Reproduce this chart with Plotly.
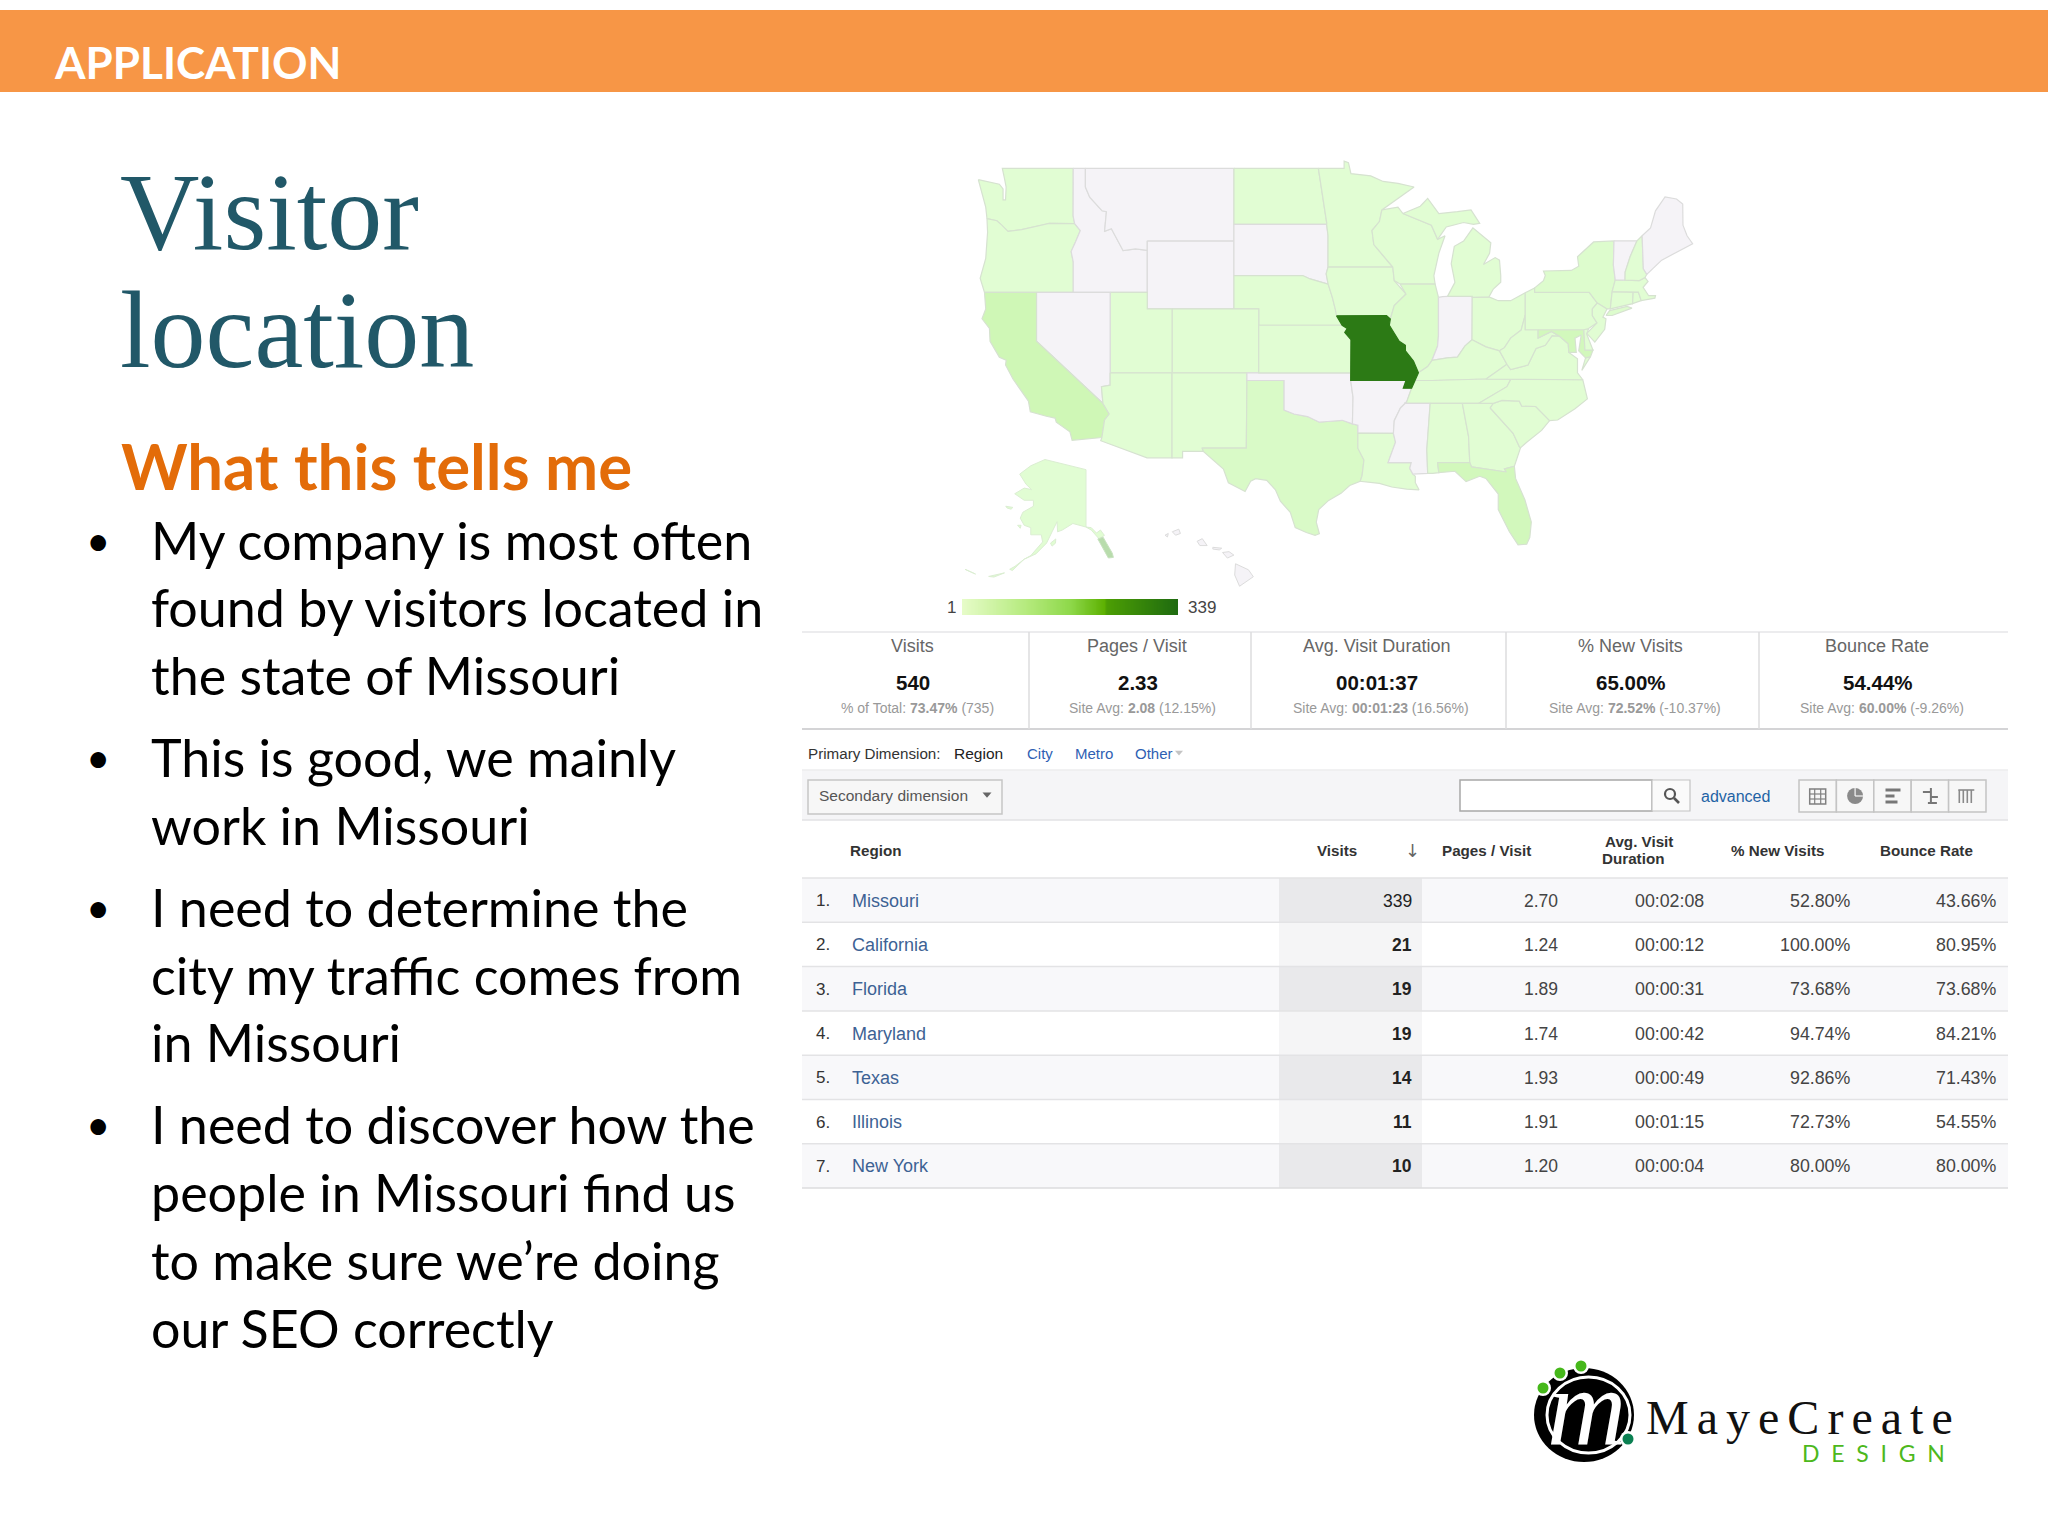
import math
import numpy as np
import plotly.graph_objects as go

# ---------------- data ----------------
HEADER = "APPLICATION"
TITLE_LINES = ["Visitor", "location"]
SUBHEAD = "What this tells me"
BULLETS = [
    ["My company is most often", "found by visitors located in", "the state of Missouri"],
    ["This is good, we mainly", "work in Missouri"],
    ["I need to determine the", "city my traffic comes from", "in Missouri"],
    ["I need to discover how the", "people in Missouri find us", "to make sure we\u2019re doing", "our SEO correctly"],
]
KPI_LABELS = ["Visits", "Pages / Visit", "Avg. Visit Duration", "% New Visits", "Bounce Rate"]
KPI_VALUES = ["540", "2.33", "00:01:37", "65.00%", "54.44%"]
KPI_SUB_A = ["% of Total: ", "Site Avg: ", "Site Avg: ", "Site Avg: ", "Site Avg: "]
KPI_SUB_B = ["73.47%", "2.08", "00:01:23", "72.52%", "60.00%"]
KPI_SUB_C = [" (735)", " (12.15%)", " (16.56%)", " (-10.37%)", " (-9.26%)"]
REGIONS = ["Missouri", "California", "Florida", "Maryland", "Texas", "Illinois", "New York"]
VISITS = [339, 21, 19, 19, 14, 11, 10]
PAGES = ["2.70", "1.24", "1.89", "1.74", "1.93", "1.91", "1.20"]
DURATION = ["00:02:08", "00:00:12", "00:00:31", "00:00:42", "00:00:49", "00:01:15", "00:00:04"]
NEW_VISITS = ["52.80%", "100.00%", "73.68%", "94.74%", "92.86%", "72.73%", "80.00%"]
BOUNCE = ["43.66%", "80.95%", "73.68%", "84.21%", "71.43%", "54.55%", "80.00%"]

# visits per state: table values, otherwise read from the shades (0 = no data)
STATE_VISITS = {"MO": 339, "CA": 21, "FL": 19, "MD": 19, "TX": 14, "IL": 11, "NY": 10,
                "MT": 0, "ID": 0, "WY": 0, "SD": 0, "NV": 0, "OK": 0, "AR": 0, "MS": 0,
                "IN": 0, "VT": 0, "ME": 0, "HI": 0}
DEFAULT_VISITS = 3

# state outlines (lon, lat)
WA = [(-124.7,48.4),(-123.0,48.15),(-122.7,47.9),(-122.7,47.3),(-122.5,47.3),(-122.45,48.0),(-122.6,48.5),(-122.76,49),(-117.03,49),(-117.04,46.42),(-116.92,45.99),(-118.98,46.0),(-119.3,45.93),(-121.2,45.65),(-122.3,45.55),(-122.8,45.9),(-123.2,46.15),(-124.0,46.27),(-124.1,46.9)]
OR = [(-124.0,46.27),(-123.2,46.15),(-122.8,45.9),(-122.3,45.55),(-121.2,45.65),(-119.3,45.93),(-118.98,46),(-116.92,45.99),(-116.46,45.6),(-116.85,44.95),(-117.2,44.4),(-117.03,43.8),(-117.03,42),(-124.2,42),(-124.55,42.84),(-124.1,44),(-123.95,45.5)]
ID = [(-117.03,49),(-116.05,49),(-116.05,48),(-115.7,47.45),(-114.7,46.7),(-114.35,46.65),(-114.5,45.55),(-113.95,45.7),(-113.45,45.05),(-113.0,44.45),(-112.0,44.55),(-111.05,44.47),(-111.05,42),(-117.03,42),(-117.03,43.8),(-117.2,44.4),(-116.85,44.95),(-116.46,45.6),(-116.92,45.99),(-117.04,46.42)]
MT = [(-116.05,49),(-104.05,49),(-104.05,45),(-111.05,45),(-111.05,44.47),(-112,44.55),(-113,44.45),(-113.45,45.05),(-113.95,45.7),(-114.5,45.55),(-114.35,46.65),(-114.7,46.7),(-115.7,47.45),(-116.05,48)]
WY = [(-111.05,45),(-104.05,45),(-104.05,41),(-111.05,41)]
ND = [(-104.05,49),(-97.23,49),(-96.55,46),(-96.56,45.94),(-104.05,45.94)]
SD = [(-104.05,45.94),(-96.56,45.94),(-96.45,45.3),(-96.45,43.5),(-96.6,43.1),(-96.44,42.49),(-97.9,42.8),(-98.5,43.0),(-104.05,43)]
NE = [(-104.05,43),(-98.5,43),(-97.9,42.8),(-96.44,42.49),(-96.1,41.7),(-95.87,41),(-95.31,40),(-102.05,40),(-102.05,41),(-104.05,41)]
CO = [(-109.05,41),(-102.05,41),(-102.05,37),(-109.05,37)]
UT = [(-114.05,42),(-111.05,42),(-111.05,41),(-109.05,41),(-109.05,37),(-114.05,37)]
NV = [(-120,42),(-114.05,42),(-114.05,36.2),(-114.75,36.1),(-114.63,35),(-120,39)]
CA = [(-124.2,42),(-120,42),(-120,39),(-114.63,35),(-114.13,34.3),(-114.5,33.9),(-114.72,32.72),(-117.12,32.53),(-117.3,33.1),(-118.4,33.75),(-118.5,34.03),(-119.2,34.15),(-120.5,34.45),(-120.65,35.15),(-121.9,36.6),(-122.5,37.5),(-122.45,37.8),(-123,38),(-123.75,39),(-123.8,39.8),(-124.4,40.4),(-124.1,41)]
AZ = [(-114.05,37),(-109.05,37),(-109.05,31.33),(-111.07,31.33),(-114.81,32.5),(-114.72,32.72),(-114.5,33.9),(-114.13,34.3),(-114.63,35),(-114.75,36.1),(-114.05,36.2)]
NM = [(-109.05,37),(-103,37),(-103.05,32),(-106.62,32),(-106.53,31.78),(-108.2,31.78),(-108.2,31.33),(-109.05,31.33)]
TX = [(-106.62,32),(-103.05,32),(-103,36.5),(-100,36.5),(-100,34.56),(-99.2,34.3),(-98.1,34.13),(-97.15,33.75),(-96.5,33.8),(-95.3,33.88),(-94.48,33.64),(-94.04,33.55),(-94.04,33.02),(-94.04,31.99),(-93.55,31.18),(-93.7,30.1),(-93.85,29.7),(-94.7,29.4),(-95.4,28.85),(-96.4,28.35),(-97.2,27.7),(-97.4,26.8),(-97.15,25.96),(-97.5,25.85),(-98.2,26.05),(-99.1,26.4),(-99.5,27.5),(-100.3,28.3),(-100.7,29.1),(-101.4,29.77),(-102.3,29.88),(-102.7,29.7),(-103.15,28.98),(-104.5,29.6),(-104.9,30.55),(-106.5,31.75)]
OK = [(-103,37),(-94.62,37),(-94.62,36.5),(-94.43,35.4),(-94.48,33.64),(-95.3,33.88),(-96.5,33.8),(-97.15,33.75),(-98.1,34.13),(-99.2,34.3),(-100,34.56),(-100,36.5),(-103,36.5)]
KS = [(-102.05,40),(-95.31,40),(-94.9,39.8),(-95.1,39.55),(-94.6,39.1),(-94.62,37),(-102.05,37)]
MN = [(-97.23,49),(-95.15,49),(-95.15,49.38),(-94.8,49.3),(-94.6,48.72),(-93,48.6),(-92,48.3),(-90.8,48.2),(-89.5,48.0),(-92.1,46.75),(-92.3,46.1),(-92.9,45.6),(-92.75,44.8),(-91.22,43.5),(-96.45,43.5),(-96.45,45.3),(-96.56,45.94),(-96.55,46)]
IA = [(-96.45,43.5),(-91.22,43.5),(-91.1,42.7),(-90.15,41.9),(-91.1,41.2),(-91.42,40.38),(-91.73,40.6),(-95.77,40.58),(-95.87,41),(-96.1,41.7),(-96.44,42.49),(-96.6,43.1)]
MO = [(-95.77,40.58),(-91.73,40.6),(-91.42,40.38),(-91.5,40.0),(-90.7,39.0),(-90.2,38.75),(-90.2,38.4),(-89.55,37.75),(-89.15,37.0),(-89.4,36.5),(-89.7,36.0),(-90.37,36.0),(-90.15,36.5),(-94.62,36.5),(-94.62,37),(-94.6,39.1),(-95.1,39.55),(-94.9,39.8),(-95.31,40)]
AR = [(-94.62,36.5),(-90.15,36.5),(-90.37,36.0),(-89.7,36.0),(-90.1,35.1),(-90.6,34.7),(-91.1,33.85),(-91.17,33.0),(-94.04,33.02),(-94.04,33.55),(-94.48,33.64),(-94.43,35.4)]
LA = [(-94.04,33.02),(-91.17,33.0),(-91.0,32.4),(-91.6,31.0),(-89.73,31.0),(-89.85,30.6),(-89.6,30.2),(-89.4,30.05),(-89.4,29.6),(-89.1,29.1),(-90.1,29.15),(-91.3,29.3),(-92.3,29.55),(-93.85,29.7),(-93.7,30.1),(-93.55,31.18),(-94.04,31.99)]
WI = [(-92.1,46.75),(-90.8,46.9),(-90.4,46.55),(-88.1,45.9),(-87.6,45.1),(-87.0,45.3),(-87.5,44.3),(-87.9,43),(-87.8,42.49),(-90.64,42.5),(-91.1,42.7),(-91.22,43.5),(-92.75,44.8),(-92.9,45.6),(-92.3,46.1)]
IL = [(-90.64,42.5),(-87.8,42.49),(-87.53,41.7),(-87.53,39.35),(-87.6,38.7),(-88.05,37.8),(-88.4,37.4),(-89.15,37.0),(-89.55,37.75),(-90.2,38.4),(-90.2,38.75),(-90.7,39),(-91.5,40),(-91.42,40.38),(-91.1,41.2),(-90.15,41.9)]
IN = [(-87.53,41.7),(-87.2,41.75),(-86.8,41.76),(-84.8,41.76),(-84.82,39.1),(-85.4,38.7),(-86,38),(-86.8,37.95),(-88.05,37.8),(-87.6,38.7),(-87.53,39.35)]
OH = [(-84.8,41.7),(-83.45,41.73),(-82.7,41.5),(-81.7,41.5),(-80.52,41.98),(-80.52,40.64),(-80.85,39.7),(-81.7,39.2),(-82.2,38.6),(-82.6,38.4),(-83.7,38.65),(-84.82,39.1)]
MI_LOWER = [(-86.8,41.76),(-84.8,41.76),(-84.8,41.7),(-83.45,41.73),(-83.1,42.2),(-82.5,42.6),(-82.5,43),(-82.6,43.9),(-82.95,44.05),(-83.9,43.65),(-83.4,44.3),(-83.3,44.9),(-84.75,45.75),(-85.5,45),(-86.25,44.7),(-86.5,43.7),(-86.2,42.6)]
MI_UPPER = [(-90.4,46.55),(-88.1,45.9),(-87.6,45.1),(-86.9,45.8),(-85.5,46.05),(-84.7,45.95),(-84.2,46.0),(-84.9,46.75),(-86,46.65),(-87.5,46.55),(-88.4,47.38),(-89,46.95)]
KY = [(-89.4,36.5),(-89.15,37),(-88.4,37.4),(-88.05,37.8),(-86.8,37.95),(-86,38),(-85.4,38.7),(-84.82,39.1),(-83.7,38.65),(-82.6,38.4),(-82,37.55),(-83.68,36.6),(-88.05,36.5)]
TN = [(-89.7,36),(-89.4,36.5),(-88.05,36.5),(-83.68,36.6),(-81.68,36.59),(-82,36.1),(-84.3,35),(-90.3,35),(-90.1,35.1)]
MS = [(-91.17,33),(-91.1,33.85),(-90.6,34.7),(-90.1,35.1),(-90.3,35),(-88.2,35),(-88.47,31.9),(-88.4,30.25),(-89.6,30.2),(-89.85,30.6),(-89.73,31),(-91.6,31),(-91,32.4)]
AL = [(-88.2,35),(-85.6,35),(-85.1,32.8),(-85.0,31.0),(-87.6,31),(-87.5,30.3),(-88.0,30.25),(-88.4,30.25),(-88.47,31.9)]
GA = [(-85.6,35),(-83.1,35),(-83.35,34.7),(-81.5,33),(-81,32.1),(-80.9,32.03),(-81.4,30.75),(-82.2,30.57),(-82.05,30.35),(-84.86,30.7),(-85,31),(-85.1,32.8)]
FL = [(-87.6,31),(-85,31),(-84.86,30.7),(-82.05,30.35),(-82.2,30.57),(-81.4,30.75),(-81.3,29.9),(-80.55,28.4),(-80.03,26.8),(-80.15,25.7),(-80.4,25.2),(-81.1,25.15),(-81.8,26.1),(-82.7,27.7),(-82.7,28.8),(-83.7,29.9),(-84.2,30.05),(-85.3,29.68),(-86.2,30.4),(-87.5,30.3)]
SC = [(-83.35,34.7),(-83.1,35),(-82.4,35.2),(-81,35.15),(-80.8,34.82),(-79.67,34.8),(-78.55,33.86),(-79.2,33.2),(-80.4,32.4),(-80.9,32.03),(-81,32.1),(-81.5,33)]
NC = [(-84.3,35),(-82,36.1),(-81.68,36.59),(-75.87,36.55),(-75.5,35.3),(-76.5,34.65),(-77.9,33.9),(-78.55,33.86),(-79.67,34.8),(-80.8,34.82),(-81,35.15),(-82.4,35.2),(-83.1,35)]
VA = [(-83.68,36.6),(-75.87,36.55),(-76.3,37),(-76.3,37.9),(-77.0,38.3),(-77.05,38.85),(-77.75,39.32),(-78.35,39.35),(-78.9,38.75),(-79.65,38.55),(-80.3,37.5),(-81.7,37.2),(-82,37.55)]
VA_SHORE = [(-75.95,37.15),(-75.25,38.03),(-75.65,37.95)]
WV = [(-82.6,38.4),(-82.2,38.6),(-81.7,39.2),(-80.85,39.7),(-80.52,40.64),(-80.52,39.72),(-79.48,39.72),(-79.48,39.2),(-78.4,39.62),(-77.75,39.32),(-78.35,39.35),(-78.9,38.75),(-79.65,38.55),(-80.3,37.5),(-81.7,37.2),(-82,37.55)]
MD = [(-79.48,39.72),(-75.79,39.72),(-75.7,38.46),(-75.05,38.45),(-75.25,38.03),(-75.65,37.95),(-76.2,38.4),(-76.0,39.4),(-76.5,39.2),(-76.4,38.3),(-77.0,38.3),(-77.05,38.85),(-77.75,39.32),(-78.4,39.62),(-79.48,39.2)]
DE = [(-75.79,39.72),(-75.4,39.8),(-75.55,39.45),(-75.05,38.45),(-75.7,38.46)]
PA = [(-80.52,41.98),(-79.76,42.27),(-79.76,42),(-75.35,42),(-74.7,41.36),(-75.1,41),(-75.1,40.6),(-74.72,40.15),(-75.4,39.8),(-75.79,39.72),(-80.52,39.72)]
NY = [(-79.76,42.27),(-79.05,42.7),(-78.9,43.0),(-79.05,43.27),(-76.8,43.3),(-76.2,43.55),(-76.3,44.1),(-75,44.95),(-73.35,45.01),(-73.4,43.6),(-73.25,42.75),(-73.5,42.05),(-73.65,41),(-73.92,41),(-74.7,41.36),(-75.35,42),(-79.76,42)]
NY_LONG_ISLAND = [(-74.0,40.6),(-73.7,40.9),(-72.3,41.15),(-71.9,41.05),(-73.5,40.6)]
NJ = [(-74.7,41.36),(-73.92,41),(-74.25,40.5),(-74,40.4),(-74.1,39.75),(-74.9,38.95),(-75.55,39.5),(-74.72,40.15),(-75.1,40.6),(-75.1,41)]
CT = [(-73.5,42.05),(-71.8,42.02),(-71.85,41.32),(-73.65,41)]
RI = [(-71.8,42.02),(-71.38,42.02),(-71.15,41.5),(-71.85,41.32)]
MA = [(-73.5,42.05),(-73.25,42.75),(-71.3,42.7),(-70.85,42.88),(-70.6,42.65),(-71,42.3),(-70.55,41.8),(-70.0,41.8),(-70.05,41.65),(-70.65,41.55),(-71.15,41.5),(-71.38,42.02)]
VT = [(-73.35,45.01),(-71.5,45.01),(-72.05,44.1),(-72.45,43.2),(-72.46,42.73),(-73.25,42.75),(-73.4,43.6)]
NH = [(-71.5,45.01),(-71.08,45.3),(-70.98,43.4),(-70.7,43.07),(-70.85,42.88),(-71.3,42.7),(-72.46,42.73),(-72.45,43.2),(-72.05,44.1)]
ME = [(-71.08,45.3),(-70.4,45.75),(-70.0,46.7),(-69.23,47.46),(-68.3,47.35),(-67.8,47.07),(-67.78,45.9),(-67.45,45.3),(-67,44.85),(-68.5,44.3),(-69.5,43.9),(-70.7,43.07),(-70.98,43.4)]

CONUS = {"WA":[WA],"OR":[OR],"ID":[ID],"MT":[MT],"WY":[WY],"ND":[ND],"SD":[SD],"NE":[NE],"CO":[CO],"UT":[UT],
         "NV":[NV],"CA":[CA],"AZ":[AZ],"NM":[NM],"TX":[TX],"OK":[OK],"KS":[KS],"MN":[MN],"IA":[IA],"AR":[AR],
         "LA":[LA],"WI":[WI],"IL":[IL],"IN":[IN],"OH":[OH],"MI":[MI_LOWER,MI_UPPER],"KY":[KY],"TN":[TN],"MS":[MS],
         "AL":[AL],"GA":[GA],"FL":[FL],"SC":[SC],"NC":[NC],"VA":[VA,VA_SHORE],"WV":[WV],"MD":[MD],"DE":[DE],
         "PA":[PA],"NY":[NY,NY_LONG_ISLAND],"NJ":[NJ],"CT":[CT],"RI":[RI],"MA":[MA],"VT":[VT],"NH":[NH],"ME":[ME],"MO":[MO]}

AK_MAIN = [(-141,69.65),(-146,70.2),(-152,70.9),(-156.6,71.35),(-162,70.3),(-166.2,68.9),(-163.8,67.2),(-161.7,66.3),(-164.5,66.55),(-168.1,65.6),(-164.5,64.5),(-161,64.5),(-161,63.5),(-165,62.5),(-166,61.5),(-164.5,60.3),(-162,59.9),(-162,58.7),(-158,58.7),(-157.5,57.5),(-162,55.2),(-164.5,54.6),(-160,55.5),(-156,57.3),(-153.9,59.2),(-152,60.9),(-151.8,59.2),(-150,59.5),(-146,60.6),(-141,60.0)]
AK_PANHANDLE = [(-141,60.0),(-139,59.9),(-137,59.0),(-135.5,59.5),(-134,58.6),(-136,58.0),(-139,59.5)]
AK_ARCHIPELAGO = [(-136.5,58.0),(-134.5,58.3),(-131,55.6),(-130.6,54.9),(-132.5,54.8),(-134.8,56.5)]
AK_KODIAK = [(-154.5,57.3),(-152.5,58),(-152.6,57.3),(-153.9,56.8)]
AK_ST_LAWRENCE = [(-171.5,63.5),(-168.8,63.3),(-169.5,63.0),(-171,63.2)]
AK_NUNIVAK = [(-167,60.3),(-165.7,60.3),(-166,59.8)]
AK_ALEUTIAN_A = [(-164.5,54.6),(-168,53.4),(-170,52.9),(-169,52.7)]
AK_ALEUTIAN_B = [(-172,52.3),(-176,51.9),(-178,51.7),(-176,51.6)]
AK_ALEUTIAN_C = [(-183,52.1),(-187,52.9),(-186,52.6)]
HI_BIG = [(-155.9,20.25),(-155.1,19.9),(-154.8,19.5),(-155.65,18.95),(-155.95,19.6)]
HI_MAUI = [(-156.7,20.9),(-156.3,20.95),(-156,20.75),(-156.4,20.58)]
HI_MOLOKAI = [(-157.3,21.2),(-156.75,21.15),(-156.9,21.05),(-157.3,21.1)]
HI_OAHU = [(-158.27,21.55),(-157.95,21.7),(-157.65,21.3),(-158.1,21.3)]
HI_KAUAI = [(-159.8,22.1),(-159.4,22.25),(-159.3,22),(-159.6,21.9)]
HI_NIIHAU = [(-160.25,21.9),(-160.05,22.0),(-160.1,21.8)]

GRADIENT_STOPS = [[0, "#e6fcc8"], [0.3, "#b4ea7c"], [0.5, "#8ed84a"], [0.66, "#5cb000"], [0.67, "#4c9e04"], [1, "#1e6a10"]]

# ---------------- page layout constants (reference pixels) ----------------
W, H = 2048, 1536
TEAL = "#215868"; ORANGE = "#f79646"; ORANGE_TXT = "#e36c09"
SANS = "Liberation Sans"; CAL = "Lato"; SERIF = "Liberation Serif"
LINK = "#3d6294"; LINK2 = "#2f5fb3"; LINE = "#dfdfe2"; BAND = "#f5f5f7"

def merc(lat):
    return math.degrees(math.log(math.tan(math.radians(45 + lat / 2))))

def hexrgb(c):
    return tuple(int(c[i:i + 2], 16) for i in (1, 3, 5))

def lerp(a, b, t):
    a, b = hexrgb(a), hexrgb(b)
    return "#%02x%02x%02x" % tuple(round(a[i] + (b[i] - a[i]) * t) for i in range(3))

def visit_color(v):
    if v == 0:
        return "#f5f3f7"
    if v <= 21:
        return lerp("#e1fdd3", "#cff7b6", ((v - 1) / 20) ** 2)
    return lerp("#cff7b6", "#2c7a15", (v - 21) / 318)

fig = go.Figure()
shapes, annos = [], []

def T(x, y, text, size, color="#333", anchor="left", font=SANS):
    annos.append(dict(x=x, y=y, xref="x", yref="y", text=text, showarrow=False, xanchor=anchor, yanchor="middle",
                      align=anchor, borderpad=0, font=dict(family=font, size=size, color=color)))

def R(x0, y0, x1, y1, fill=None, line=None, lw=1, layer="below", kind="rect"):
    shapes.append(dict(type=kind, xref="x", yref="y", x0=x0, y0=y0, x1=x1, y1=y1, layer=layer,
                       fillcolor=fill if fill else "rgba(0,0,0,0)",
                       line=dict(color=line if line else "rgba(0,0,0,0)", width=lw if line else 0)))

def L(x0, y0, x1, y1, color=LINE, lw=1.5, layer="below"):
    shapes.append(dict(type="line", xref="x", yref="y", x0=x0, y0=y0, x1=x1, y1=y1, layer=layer,
                       line=dict(color=color, width=lw)))

def TRI(cx, cy, s, color):
    shapes.append(dict(type="path", xref="x", yref="y", layer="above", fillcolor=color, line=dict(width=0),
                       path=f"M {cx-s} {cy-s*0.55} L {cx+s} {cy-s*0.55} L {cx} {cy+s*0.6} Z"))

# base page axis
fig.add_trace(go.Scatter(x=[0, W], y=[0, H], mode="markers", marker=dict(opacity=0), hoverinfo="skip", showlegend=False))

# ---- slide header and text
R(0, 10, W, 92, fill=ORANGE)
T(53, 62, "<b>" + HEADER + "</b>", 44, "#ffffff", font=CAL)
for i, t in enumerate(TITLE_LINES):
    T(119, 212 + i * 118, t, 110, TEAL, font=SERIF)
T(120, 465, "<b>" + SUBHEAD + "</b>", 63.5, ORANGE_TXT, font=CAL)
y = 539.5
for para in BULLETS:
    T(85, y, "\u2022", 42, "#000", font=CAL)
    for ln in para:
        T(150, y, ln, 52, "#000", font=CAL)
        y += 67.8
    y += 14.1

# ---- KPI strip
X_L, X_R = 802, 2008
L(X_L, 632, X_R, 632, "#ececee", 2)
L(X_L, 729, X_R, 729, "#d4d4d6", 2)
for sx in (1029, 1251, 1506, 1759):
    L(sx, 632, sx, 729, "#dcdcde", 1.5)
KPI_CX = [912, 1137, 1376, 1630, 1877]
for i in range(5):
    T(KPI_CX[i], 645.5, KPI_LABELS[i], 18, "#666", "center")
    T(KPI_CX[i] + 1, 682, "<b>" + KPI_VALUES[i] + "</b>", 20.5, "#111", "center")
    T(KPI_CX[i] + 5, 708, KPI_SUB_A[i] + "<b>" + KPI_SUB_B[i] + "</b>" + KPI_SUB_C[i], 14, "#999", "center")

# ---- dimension row
T(807, 753, "Primary Dimension:", 15.2, "#333")
T(953, 753, "Region", 15.5, "#222")
T(1026, 753, "City", 15, LINK2)
T(1074, 753, "Metro", 15, LINK2)
T(1134, 753, "Other", 15, LINK2)
TRI(1179, 753, 4, "#c4c4c4")

# ---- toolbar band
R(X_L, 770, X_R, 820, fill=BAND)
L(X_L, 770, X_R, 770, "#ececee", 1.5)
L(X_L, 820, X_R, 820, "#e2e2e4", 1.5)
R(808, 780, 1002, 814, fill="#f7f7f7", line="#c6c6c6", lw=1.5)
T(818, 795.5, "Secondary dimension", 15.5, "#555")
TRI(987, 795, 4.5, "#666")
R(1460, 780, 1652, 811, fill="#ffffff", line="#a8a8a8", lw=1.5)
R(1652, 780, 1690, 811, fill="#fafafa", line="#c4c4c4", lw=1.2)
R(1665, 789, 1675, 799, line="#555", lw=2.2, kind="circle", layer="above")
L(1674, 798, 1679, 803, "#555", 2.6, "above")
T(1700, 796, "advanced", 16, "#1f63a5")
ICON_X0, ICON_W = 1799, 37.4
for i in range(5):
    R(ICON_X0 + i * ICON_W, 780, ICON_X0 + (i + 1) * ICON_W, 812, fill="#f7f7f7", line="#c4c4c4", lw=1.5)
# grid icon
gx = ICON_X0 + ICON_W / 2
R(gx - 8, 789, gx + 8, 804, line="#808080", lw=1.5, layer="above")
for d in (-3, 3):
    L(gx + d, 789, gx + d, 804, "#808080", 1.2, "above")
for d in (794, 799):
    L(gx - 8, d, gx + 8, d, "#808080", 1.2, "above")
# pie icon
px = ICON_X0 + ICON_W * 1.5
R(px - 8, 788, px + 8, 804, fill="#8a8a8a", layer="above", kind="circle")
L(px, 788, px, 796, "#f7f7f7", 1.2, "above")
L(px, 796, px + 8, 796, "#f7f7f7", 1.2, "above")
# bar icon
bx = ICON_X0 + ICON_W * 2.5
for d, w in ((790, 15), (796, 9), (802, 12)):
    L(bx - 7, d, bx - 7 + w, d, "#777", 3, "above")
# comparison icon
cx = ICON_X0 + ICON_W * 3.5
L(cx - 7, 792, cx + 1, 792, "#777", 2, "above")
L(cx + 1, 788, cx + 1, 804, "#777", 2, "above")
L(cx + 1, 797, cx + 8, 797, "#777", 2, "above")
L(cx - 2, 803, cx + 7, 803, "#777", 2, "above")
# pivot icon
dx = ICON_X0 + ICON_W * 4.5
for d in (-8, -4, 0, 4):
    L(dx + d, 790, dx + d, 803, "#8a8a8a", 1.6, "above")
L(dx - 9, 790, dx + 7, 790, "#8a8a8a", 1.6, "above")

# ---- table header
HS = 15.2
T(849, 850, "<b>Region</b>", HS, "#333")
T(1316, 850, "<b>Visits</b>", HS, "#333")
T(1412, 850, "\u2193", 18, "#666", "center", "DejaVu Sans")
T(1441, 850, "<b>Pages / Visit</b>", HS, "#333")
T(1604, 841, "<b>Avg. Visit</b>", HS, "#333")
T(1601, 858, "<b>Duration</b>", HS, "#333")
T(1730, 850, "<b>% New Visits</b>", HS, "#333")
T(1879, 850, "<b>Bounce Rate</b>", HS, "#333")

# ---- table rows
ROW0, ROW_H = 878, 44.3
for i, name in enumerate(REGIONS):
    top = ROW0 + i * ROW_H
    bot = top + ROW_H
    mid = top + ROW_H / 2 + 0.5
    R(X_L, top, X_R, bot, fill="#f8f8fa" if i % 2 == 0 else "#ffffff")
    R(1279, top, 1422, bot, fill="#e9e9eb" if i % 2 == 0 else "#f5f5f6")
    L(X_L, top, X_R, top, "#e3e3e5", 1.5)
    T(831, mid, f"{i + 1}.", 17, "#333", "right")
    T(851, mid, name, 18, LINK)
    label = str(VISITS[i]) if i == 0 else f"<b>{VISITS[i]}</b>"
    T(1413, mid, label, 17.5, "#222", "right")
    T(1559, mid, PAGES[i], 17.5, "#444", "right")
    T(1705, mid, DURATION[i], 17.8, "#444", "right")
    T(1851, mid, NEW_VISITS[i], 17.8, "#444", "right")
    T(1997, mid, BOUNCE[i], 17.8, "#444", "right")
L(X_L, ROW0 + 7 * ROW_H, X_R, ROW0 + 7 * ROW_H, "#dcdcde", 1.5)

# ---- map axes: pixels per degree and anchors
SX, SY = 12.38, 12.4
LON0, PX0, PY0 = -124.7, 978.3, 168.3
M49 = merc(49)
MAP_X = (960, 1720); MAP_Y = (150, 560)
lon_rng = [LON0 + (MAP_X[0] - PX0) / SX, LON0 + (MAP_X[1] - PX0) / SX]
merc_rng = [M49 - (MAP_Y[1] - PY0) / SY, M49 - (MAP_Y[0] - PY0) / SY]

AK_X = (950, 1130); AK_Y = (440, 590)
AK_PX, AK_PY, AK_SX, AK_SY = 1086, 558, 2.63, 5.95
ak_lon = [-141 + (AK_X[0] - AK_PX) / AK_SX, -141 + (AK_X[1] - AK_PX) / AK_SX]
ak_lat = [54.8 - (AK_Y[1] - AK_PY) / AK_SY, 54.8 - (AK_Y[0] - AK_PY) / AK_SY]
HI_X = (1150, 1270); HI_Y = (520, 600)
hi_lon = [-155.4 + (HI_X[0] - 1243.6) / 16.2, -155.4 + (HI_X[1] - 1243.6) / 16.2]
hi_lat = [19.6 - (HI_Y[1] - 575) / 17.3, 19.6 - (HI_Y[0] - 575) / 17.3]
LG_X = (962, 1178); LG_Y = (599, 615)

def poly(pts, color, xa, ya, border="#d6e2d0", lw=1.2, project=None):
    xs = [p[0] for p in pts] + [pts[0][0]]
    ys = [project(p[1]) if project else p[1] for p in pts] + [project(pts[0][1]) if project else pts[0][1]]
    fig.add_trace(go.Scatter(x=xs, y=ys, mode="lines", fill="toself", fillcolor=color, xaxis=xa, yaxis=ya,
                             line=dict(color=border, width=lw), hoverinfo="skip", showlegend=False))

for code, parts in CONUS.items():
    v = STATE_VISITS.get(code, DEFAULT_VISITS)
    border = "#d6e2d0" if v else "#dcdcdc"
    if code == "MO":
        border = "#2c7a15"
    for part in parts:
        poly(part, visit_color(v), "x2", "y2", border, 1.2, merc)

ak_col = visit_color(DEFAULT_VISITS)
for part in (AK_MAIN, AK_PANHANDLE, AK_KODIAK, AK_ST_LAWRENCE, AK_NUNIVAK, AK_ALEUTIAN_A, AK_ALEUTIAN_B, AK_ALEUTIAN_C):
    poly(part, ak_col, "x3", "y3", "#dbeed2", 1)
poly(AK_ARCHIPELAGO, "#b8dcac", "x3", "y3", "#c8e2c0", 1)
for part in (HI_BIG, HI_MAUI, HI_MOLOKAI, HI_OAHU, HI_KAUAI, HI_NIIHAU):
    poly(part, visit_color(0), "x4", "y4", "#dcdcdc", 1)

fig.add_trace(go.Heatmap(z=[list(np.linspace(1, 339, 120))], x=list(np.linspace(1, 339, 120)), y=[0],
                         colorscale=GRADIENT_STOPS, zsmooth="best", showscale=False, hoverinfo="skip",
                         xaxis="x5", yaxis="y5"))
T(951, 607, "1", 17, "#444", "center")
T(1187, 607, "339", 17, "#444")

# ---- logo
LC = (1584, 1415)
R(LC[0] - 50, LC[1] - 47, LC[0] + 50, LC[1] + 47, fill="#000000", layer="above", kind="circle")
R(LC[0] - 37, LC[1] - 38, LC[0] + 46, LC[1] + 38, line="#ffffff", lw=3, layer="above", kind="circle")
for (dx_, dy_, col) in ((1543, 1388, "#46b81b"), (1560, 1373, "#46b81b"), (1581, 1366, "#46b81b"), (1628, 1439, "#0b8052")):
    R(dx_ - 8, dy_ - 8, dx_ + 8, dy_ + 8, fill="#ffffff", layer="above", kind="circle")
    R(dx_ - 5.5, dy_ - 5.5, dx_ + 5.5, dy_ + 5.5, fill=col, layer="above", kind="circle")
T(1586, 1408, "<i>m</i>", 110, "#ffffff", "center", SERIF)
T(1645, 1417, "\u200a\u200a".join("MayeCreate"), 48, "#111111", font=SERIF)
T(1873, 1453, "D\u00a0\u00a0E\u00a0\u00a0S\u00a0\u00a0I\u00a0\u00a0G\u00a0\u00a0N", 23, "#4db81c", "center", CAL)

# ---- layout
def dom_x(a, b):
    return [a / W, b / W]

def dom_y(a, b):
    return [1 - b / H, 1 - a / H]

hidden = dict(visible=False, fixedrange=True, showgrid=False, zeroline=False)
fig.update_layout(
    width=W, height=H, margin=dict(l=0, r=0, t=0, b=0), paper_bgcolor="#ffffff", plot_bgcolor="rgba(0,0,0,0)",
    showlegend=False, shapes=shapes, annotations=annos,
    xaxis=dict(range=[0, W], domain=[0, 1], **hidden),
    yaxis=dict(range=[H, 0], domain=[0, 1], **hidden),
    xaxis2=dict(range=lon_rng, domain=dom_x(*MAP_X), anchor="y2", **hidden),
    yaxis2=dict(range=merc_rng, domain=dom_y(*MAP_Y), anchor="x2", **hidden),
    xaxis3=dict(range=ak_lon, domain=dom_x(*AK_X), anchor="y3", **hidden),
    yaxis3=dict(range=ak_lat, domain=dom_y(*AK_Y), anchor="x3", **hidden),
    xaxis4=dict(range=hi_lon, domain=dom_x(*HI_X), anchor="y4", **hidden),
    yaxis4=dict(range=hi_lat, domain=dom_y(*HI_Y), anchor="x4", **hidden),
    xaxis5=dict(range=[1, 339], domain=dom_x(*LG_X), anchor="y5", **hidden),
    yaxis5=dict(range=[-0.5, 0.5], domain=dom_y(*LG_Y), anchor="x5", **hidden),
)
fig.write_html("out.html", config={"displayModeBar": False},
               post_script="document.body.style.margin='0';document.body.style.overflow='hidden';")
